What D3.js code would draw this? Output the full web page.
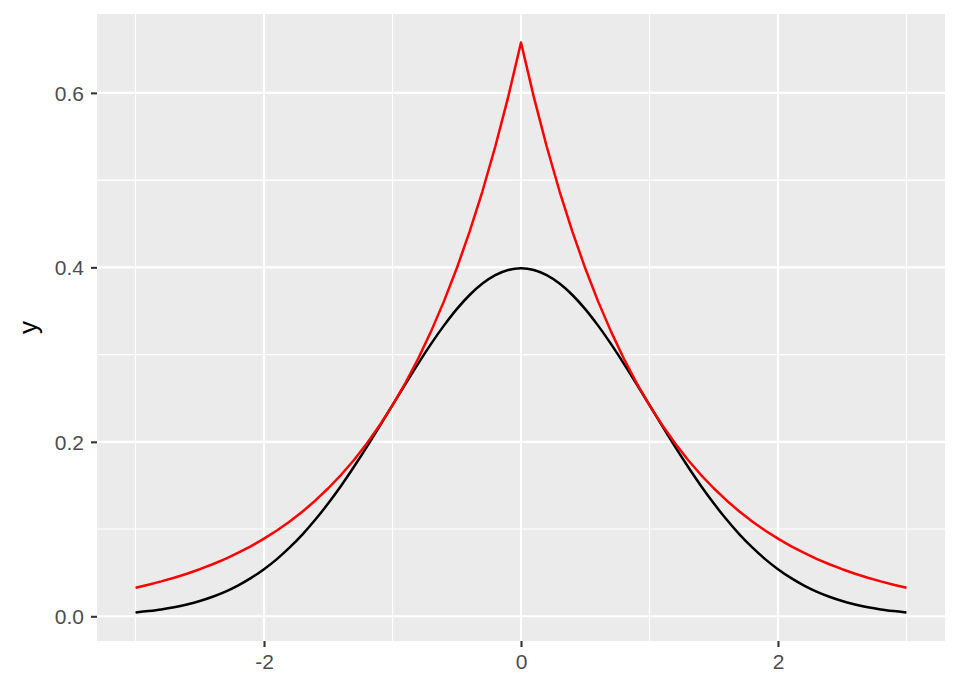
<!DOCTYPE html>
<html><head><meta charset="utf-8">
<script src="https://cdn.jsdelivr.net/npm/d3@7"></script>
<style>body{margin:0;background:#fff}svg{display:block}</style>
</head><body>
<svg id="c" width="960" height="691"></svg>
<script>
const xValues = [-3.0,-2.9,-2.8,-2.7,-2.6,-2.5,-2.4,-2.3,-2.2,-2.1,-2.0,-1.9,-1.8,-1.7,-1.6,-1.5,-1.4,-1.3,-1.2,-1.1,-1.0,-0.9,-0.8,-0.7,-0.6,-0.5,-0.4,-0.3,-0.2,-0.1,0.0,0.1,0.2,0.3,0.4,0.5,0.6,0.7,0.8,0.9,1.0,1.1,1.2,1.3,1.4,1.5,1.6,1.7,1.8,1.9,2.0,2.1,2.2,2.3,2.4,2.5,2.6,2.7,2.8,2.9,3.0];
const blackY = [0.0044,0.0060,0.0079,0.0104,0.0136,0.0175,0.0224,0.0283,0.0355,0.0440,0.0540,0.0656,0.0790,0.0940,0.1109,0.1295,0.1497,0.1714,0.1942,0.2179,0.2420,0.2661,0.2897,0.3123,0.3332,0.3521,0.3683,0.3814,0.3910,0.3970,0.3989,0.3970,0.3910,0.3814,0.3683,0.3521,0.3332,0.3123,0.2897,0.2661,0.2420,0.2179,0.1942,0.1714,0.1497,0.1295,0.1109,0.0940,0.0790,0.0656,0.0540,0.0440,0.0355,0.0283,0.0224,0.0175,0.0136,0.0104,0.0079,0.0060,0.0044];
const redY = [0.0327,0.0362,0.0400,0.0442,0.0488,0.0540,0.0597,0.0659,0.0729,0.0805,0.0890,0.0984,0.1087,0.1201,0.1328,0.1468,0.1622,0.1792,0.1981,0.2189,0.2420,0.2674,0.2955,0.3266,0.3610,0.3989,0.4409,0.4872,0.5385,0.5951,0.6577,0.5951,0.5385,0.4872,0.4409,0.3989,0.3610,0.3266,0.2955,0.2674,0.2420,0.2189,0.1981,0.1792,0.1622,0.1468,0.1328,0.1201,0.1087,0.0984,0.0890,0.0805,0.0729,0.0659,0.0597,0.0540,0.0488,0.0442,0.0400,0.0362,0.0327];
const xTicks = [-2, 0, 2];
const xTickLabels = ["-2", "0", "2"];
const xMinor = [-3, -1, 1, 3];
const yTicks = [0.0, 0.2, 0.4, 0.6];
const yTickLabels = ["0.0", "0.2", "0.4", "0.6"];
const yMinor = [0.1, 0.3, 0.5];
const yTitle = "y";

const svg = d3.select("#c");
const L = 97, R = 945, T = 14, B = 641;
const x = d3.scaleLinear().domain([-3.3, 3.3]).range([L, R]);
const y = d3.scaleLinear().domain([-0.0283, 0.6904]).range([B, T]);
const FONT = "'Liberation Sans', Arial, sans-serif";

svg.append("rect").attr("x", L).attr("y", T).attr("width", R - L).attr("height", B - T).attr("fill", "#EBEBEB");
const g = svg.append("g");
g.selectAll(".xmin").data(xMinor).join("line").attr("class","xmin").attr("x1", d => x(d)).attr("x2", d => x(d)).attr("y1", T).attr("y2", B).attr("stroke", "#fff").attr("stroke-width", 1.1);
g.selectAll(".ymin").data(yMinor).join("line").attr("class","ymin").attr("y1", d => y(d)).attr("y2", d => y(d)).attr("x1", L).attr("x2", R).attr("stroke", "#fff").attr("stroke-width", 1.1);
g.selectAll(".xmaj").data(xTicks).join("line").attr("class","xmaj").attr("x1", d => x(d)).attr("x2", d => x(d)).attr("y1", T).attr("y2", B).attr("stroke", "#fff").attr("stroke-width", 2.1);
g.selectAll(".ymaj").data(yTicks).join("line").attr("class","ymaj").attr("y1", d => y(d)).attr("y2", d => y(d)).attr("x1", L).attr("x2", R).attr("stroke", "#fff").attr("stroke-width", 2.1);

const smooth = d3.line().x((d, i) => x(xValues[i])).y(d => y(d)).curve(d3.curveMonotoneX);
const straight = d3.line().x((d, i) => x(xValues[i])).y(d => y(d));
svg.append("path").datum(blackY).attr("d", smooth).attr("fill", "none").attr("stroke", "#000").attr("stroke-width", 2.5);
svg.append("path").datum(redY).attr("d", straight).attr("fill", "none").attr("stroke", "#FF0000").attr("stroke-width", 2.5).attr("stroke-linejoin", "round");

const xAxis = svg.append("g").attr("transform", `translate(0,${B})`)
  .call(d3.axisBottom(x).tickValues(xTicks).tickFormat((d, i) => xTickLabels[i]).tickSizeInner(6).tickSizeOuter(0).tickPadding(7));
const yAxis = svg.append("g").attr("transform", `translate(${L},0)`)
  .call(d3.axisLeft(y).tickValues(yTicks).tickFormat((d, i) => yTickLabels[i]).tickSizeInner(6).tickSizeOuter(0).tickPadding(7));
[xAxis, yAxis].forEach(a => {
  a.attr("font-size", null).attr("font-family", null);
  a.select(".domain").remove();
  a.selectAll(".tick line").attr("stroke", "#333").attr("stroke-width", 2.1);
  a.selectAll(".tick text").attr("fill", "#4D4D4D").attr("font-family", FONT).attr("font-size", 21);
});
xAxis.selectAll(".tick text").attr("dy", "0.72em");
yAxis.selectAll(".tick text").attr("dy", "0.36em");
svg.append("text").attr("transform", `translate(37,${(T + B) / 2}) rotate(-90)`).attr("text-anchor", "middle")
  .attr("font-family", FONT).attr("font-size", 26).attr("fill", "#000").text(yTitle);
</script>
</body></html>
